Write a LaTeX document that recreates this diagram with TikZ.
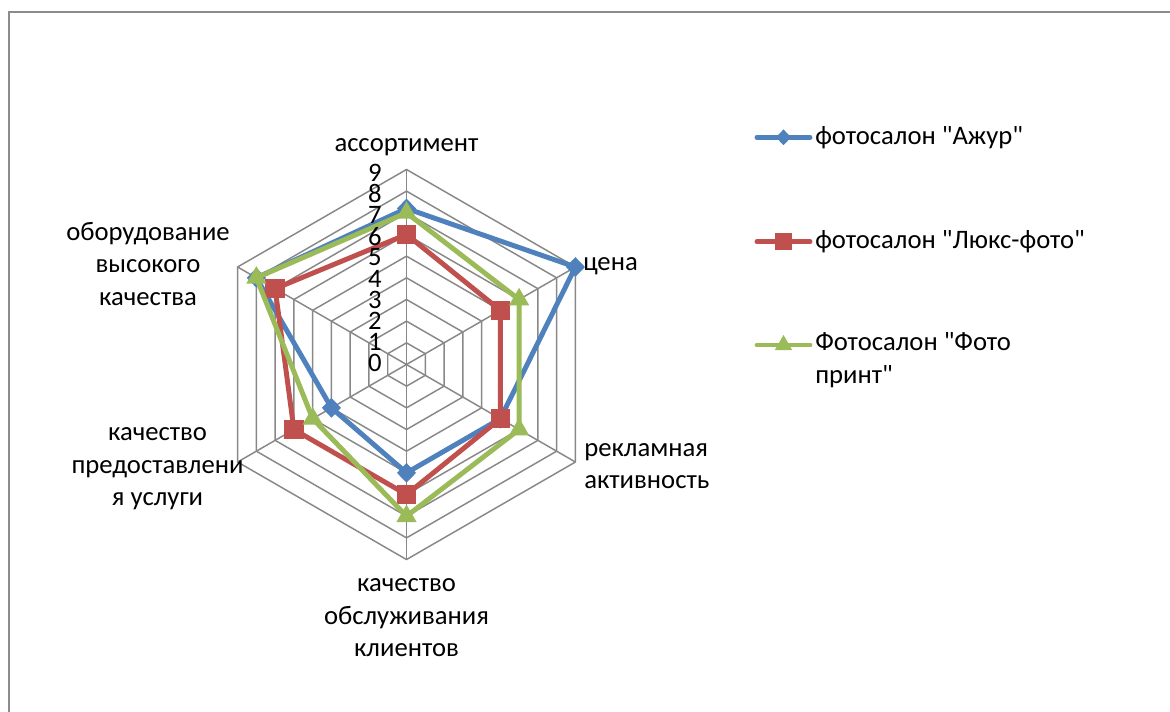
\documentclass[tikz,border=0pt]{standalone}
\usepackage{fontspec}
\setmainfont{Carlito}[Ligatures=TeXOff]
\usetikzlibrary{shapes.geometric}
\definecolor{sblue}{HTML}{4F81BD}
\definecolor{sred}{HTML}{C0504D}
\definecolor{sgreen}{HTML}{9BBB59}
\definecolor{gridgray}{HTML}{888888}
\definecolor{framegray}{HTML}{8C8C8C}
\tikzset{
  gridline/.style={draw=gridgray, line width=1.1pt},
  serline/.style={line width=3.7pt, line join=round, line cap=round},
  mkblue/.style={diamond, fill=sblue, draw=none, inner sep=0pt, minimum width=14.5pt, minimum height=15pt},
  mkred/.style={rectangle, fill=sred, draw=none, inner sep=0pt, minimum size=14.5pt},
  mkgreen/.style={regular polygon, regular polygon sides=3, fill=sgreen, draw=none, inner sep=0pt, minimum size=17.5pt},
  lgblue/.style={mkblue, minimum width=11.5pt, minimum height=12pt},
  lgred/.style={mkred, minimum size=12.5pt},
  lggreen/.style={mkgreen, minimum size=15pt},
  lbl/.style={inner sep=0pt, text=black},
  num/.style={inner sep=0pt, anchor=east, text=black}
}
\begin{document}
\begin{tikzpicture}[x=0.75pt,y=0.75pt, font=\fontsize{20}{24.4}\selectfont]
\useasboundingbox (0,0) rectangle (1170,-711);
\clip (0,0) rectangle (1170,-711);
\fill[white] (0,0) rectangle (1170,-711);
\draw[draw=framegray, line width=1.5pt] (8.5,-12) rectangle (1200,-740);

\begin{scope}[shift={(406.5,-364.5)}]
  % grid
  \foreach \k in {1,...,9}{
    \pgfmathsetmacro\r{\k*21.67}
    \draw[gridline] (90:\r) -- (30:\r) -- (-30:\r) -- (-90:\r) -- (-150:\r) -- (150:\r) -- cycle;
  }
  \coordinate (O) at (0,0);
  \foreach \a/\n in {90/v1,30/v2,-30/v3,-90/v4,-150/v5,150/v6}{
    \coordinate (\n) at (\a:195);
    \draw[gridline] (O) -- (\n);
  }
  % data points
  \coordinate (a1) at (90:{7.2*21.67});
  \coordinate (a2) at (30:{9*21.67});
  \coordinate (a3) at (-30:{5*21.67});
  \coordinate (a4) at (-90:{5*21.67});
  \coordinate (a5) at (-150:{4*21.67});
  \coordinate (a6) at (150:{8*21.67});
  \coordinate (b1) at (90:{6*21.67});
  \coordinate (b2) at (30:{5*21.67});
  \coordinate (b3) at (-30:{5*21.67});
  \coordinate (b4) at (-90:{6*21.67});
  \coordinate (b5) at (-150:{6*21.67});
  \coordinate (b6) at (150:{7*21.67});
  \coordinate (c1) at (90:{7*21.67});
  \coordinate (c2) at (30:{6*21.67});
  \coordinate (c3) at (-30:{6*21.67});
  \coordinate (c4) at (-90:{7*21.67});
  \coordinate (c5) at (-150:{5*21.67});
  \coordinate (c6) at (150:{8*21.67});
\end{scope}

% series 1
\draw[serline, sblue] (a1) -- (a2) -- (a3) -- (a4) -- (a5) -- (a6) -- cycle;
\foreach \p in {a1,a2,a3,a4,a5,a6} \node[mkblue] (m\p) at (\p) {};
% series 2
\draw[serline, sred] (b1) -- (b2) -- (b3) -- (b4) -- (b5) -- (b6) -- cycle;
\foreach \p in {b1,b2,b3,b4,b5,b6} \node[mkred] (m\p) at (\p) {};
% series 3
\draw[serline, sgreen] (c1) -- (c2) -- (c3) -- (c4) -- (c5) -- (c6) -- cycle;
\foreach \p in {c1,c2,c3,c4,c5,c6} \node[mkgreen] (m\p) at (\p) {};

% axis numbers
\foreach \k in {0,...,9}{
  \node[num] (n\k) at (382,{-(363.3-\k*21.18)}) {\k};
}

% category labels
\node[lbl, anchor=base] (t1) at (406.5,-151.5) {ассортимент};
\node[lbl, anchor=west] (t2) at (583,-266) {цена};
\node[lbl, anchor=west, align=left] (t3) at (584,-466) {рекламная\\активность};
\node[lbl, align=center] (t4) at (406.5,-618) {качество\\обслуживания\\клиентов};
\node[lbl, align=center] (t5) at (157.5,-469) {качество\\предоставлени\\я услуги};
\node[lbl, align=center] (t6) at (148,-264) {оборудование\\высокого\\качества};

% legend
\coordinate (la) at (757,-137.3); \coordinate (lb) at (810,-137.3);
\draw[serline, sblue] (la) -- (lb);
\node[lgblue] (lm1) at (783.5,-137.3) {};
\node[lbl, anchor=west] (lt1) at (815,-137.3) {фотосалон "Ажур"};

\coordinate (lc) at (757,-241.7); \coordinate (ld) at (810,-241.7);
\draw[serline, sred] (lc) -- (ld);
\node[lgred] (lm2) at (783.5,-241.7) {};
\node[lbl, anchor=west] (lt2) at (815,-241.7) {фотосалон "Люкс-фото"};

\coordinate (le) at (757,-345); \coordinate (lf) at (810,-345);
\draw[serline, sgreen] (le) -- (lf);
\node[lggreen] (lm3) at (783.5,-345) {};
\node[lbl, anchor=west, align=left] (lt3) at (815,-360) {Фотосалон "Фото\\принт"};
\end{tikzpicture}
\end{document}
